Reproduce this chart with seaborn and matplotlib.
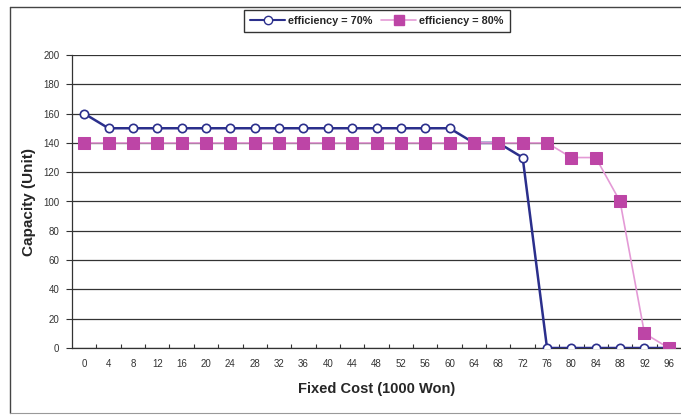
import matplotlib
matplotlib.use("Agg")
import matplotlib.pyplot as plt
import seaborn as sns
import pandas as pd
import numpy as np
from matplotlib.lines import Line2D

cost = [0, 4, 8, 12, 16, 20, 24, 28, 32, 36, 40, 44, 48, 52, 56, 60, 64, 68, 72, 76, 80, 84, 88, 92, 96]
cap70 = [160, 150, 150, 150, 150, 150, 150, 150, 150, 150, 150, 150, 150, 150, 150, 150, 140, 140, 130, 0, 0, 0, 0, 0, 0]
cap80 = [140, 140, 140, 140, 140, 140, 140, 140, 140, 140, 140, 140, 140, 140, 140, 140, 140, 140, 140, 140, 130, 130, 100, 10, 0]
series_names = ["efficiency = 70%", "efficiency = 80%"]
y_ticks = [0, 20, 40, 60, 80, 100, 120, 140, 160, 180, 200]

sns.set_theme(style="white")
plt.rcParams['font.family'] = ['Liberation Sans', 'DejaVu Sans']

df = pd.DataFrame({"pos": list(range(len(cost))) * 2,
                   "cap": cap70 + cap80,
                   "series": [series_names[0]] * len(cost) + [series_names[1]] * len(cost)})

fig = plt.figure(figsize=(6.81, 4.15), dpi=100)
ax = fig.add_axes([72/681, 1-348/415, 1-72/681, (348-55)/415])

blue = "#2B2F8C"
pink_line = "#E49AD6"
pink_mk = "#BD45A6"

d80 = df[df.series == series_names[1]]
d70 = df[df.series == series_names[0]]
sns.lineplot(data=d70, x="pos", y="cap", ax=ax, color=blue, lw=1.8,
             marker="o", markersize=6, markerfacecolor="white", markeredgecolor=blue,
             markeredgewidth=1.2, zorder=3)
sns.lineplot(data=d80, x="pos", y="cap", ax=ax, color=pink_line, lw=1.2,
             marker="s", markersize=8, markerfacecolor=pink_mk, markeredgecolor=pink_mk, zorder=4)

ax.set_xlim(-0.5, len(cost) - 0.5)
ax.set_ylim(0, 200)
ax.set_yticks(y_ticks)
ax.set_yticklabels([str(v) for v in y_ticks], fontsize=7, color="#333333")
ax.set_xticks(range(len(cost)))
ax.set_xticklabels([str(c) for c in cost], fontsize=7, color="#333333")
ax.set_xticks(np.arange(0.5, len(cost) - 0.5, 1), minor=True)
ax.tick_params(axis="x", which="major", length=0, pad=8)
ax.tick_params(axis="x", which="minor", length=3, direction="in", width=0.8, color="#333333", bottom=True)
ax.tick_params(axis="y", which="major", length=4, direction="out", width=0.8, color="#333333", left=True, pad=5)
ax.yaxis.grid(True, color="#333333", lw=0.9)
ax.set_axisbelow(True)
for s in ["top", "right"]:
    ax.spines[s].set_visible(False)
for s in ["left", "bottom"]:
    ax.spines[s].set_color("#333333")
    ax.spines[s].set_linewidth(0.9)
ax.set_xlabel("Fixed Cost (1000 Won)", fontsize=10.5, fontweight="bold", labelpad=9)
ax.set_ylabel("Capacity (Unit)", fontsize=11, fontweight="bold", labelpad=5)
if ax.legend_:
    ax.legend_.remove()

handles = [Line2D([0], [0], color=blue, lw=1.5, marker="o", markersize=6,
                  markerfacecolor="white", markeredgecolor=blue),
           Line2D([0], [0], color=pink_line, lw=1.2, marker="s", markersize=7,
                  markerfacecolor=pink_mk, markeredgecolor=pink_mk)]
leg = fig.legend(handles, series_names, loc="center", bbox_to_anchor=(377/681, 1-21/415),
                 ncol=2, frameon=True, fancybox=False, edgecolor="black",
                 prop={"size": 7.8, "weight": "bold"}, handlelength=3.2,
                 columnspacing=0.8, handletextpad=0.3, borderpad=0.55)
leg.get_frame().set_linewidth(1.0)

# outer frame
fc = "#444444"
fig.add_artist(Line2D([10/681, 10/681], [2/415, 1-7/415], transform=fig.transFigure, color=fc, lw=1.0))
fig.add_artist(Line2D([10/681, 1], [1-7/415, 1-7/415], transform=fig.transFigure, color=fc, lw=1.0))
fig.add_artist(Line2D([10/681, 1], [2/415, 2/415], transform=fig.transFigure, color="#999999", lw=0.8))

fig.savefig("out.png", dpi=100)
